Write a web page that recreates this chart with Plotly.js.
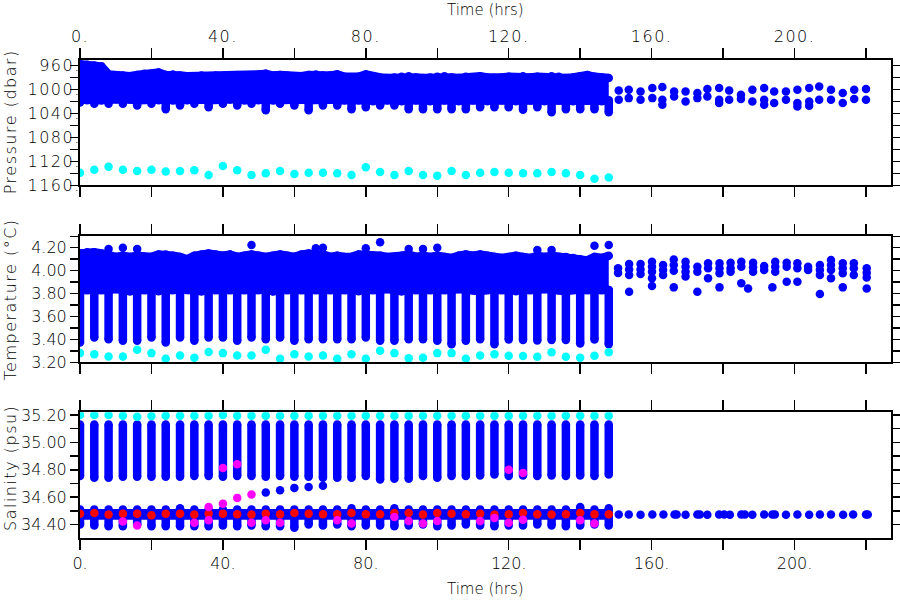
<!DOCTYPE html>
<html><head><meta charset="utf-8">
<script src="https://cdn.plot.ly/plotly-3.0.1.min.js"></script>
<style>
html,body{margin:0;padding:0;background:#fff}
#chart{width:900px;height:600px}
#chart .xtick text, #chart .ytick text{letter-spacing:1.5px}
#chart g.annotation[data-index="2"] text,
#chart g.annotation[data-index="3"] text,
#chart g.annotation[data-index="4"] text{letter-spacing:1.5px}
</style>
</head><body><div id="chart"></div>
<script>
// ---------- data ----------
const castT = [0,4,8,12,16,20,24,28,32,36,40,44,48,52,56,60,64,68,72,76,80,84,88,92,96,100,104,108,112,116,120,124,128,132,136,140,144,148];

// Pressure (dbar)
const presDip  = [1022,1024,1024,1024,1027,1024,1033,1027,1024,1030,1024,1027,1024,1035,1024,1027,1035,1027,1027,1033,1030,1027,1027,1033,1033,1033,1033,1033,1030,1030,1030,1034,1030,1038,1033,1033,1033,1038];
const presCyan = [1139,1134,1129,1134,1136,1134,1137,1136,1135,1143,1128,1135,1143,1140,1136,1141,1139,1139,1140,1143,1130,1138,1143,1136,1143,1144,1136,1143,1139,1138,1139,1140,1140,1138,1140,1143,1149,1147];
const bandT = [0,2,4,6,8,10,12,14,16,18,20,22,24,26,28,30,32,34,36,38,40,42,44,46,48,50,52,54,56,58,60,62,64,66,68,70,72,74,76,78,80,82,84,86,88,90,92,94,96,98,100,102,104,106,108,110,112,114,116,118,120,122,124,126,128,130,132,134,136,138,140,142,144,146,148];
const presBandTop = [958,959,960,962,975,977,977,978,976,974,975,972,976,975,977,978,978,977,978,977,978,978,976,977,978,975,974,977,976,977,978,978,976,975,977,977,975,
                     979,980,979,975,979,980,981,980,979,978,980,981,980,979,978,980,981,979,980,978,980,981,980,979,980,978,980,979,980,978,979,981,980,978,976,979,980,981];
const presBandBot = [1017,1018,1017,1018,1017,1016,1018,1017,1018,1017,1016,1018,1017,1018,1017,1018,1016,1017,1018,1017,1018,1017,1016,1018,1017,1018,1017,1018,1017,1016,1018,1017,1018,1017,1018,1017,1018,
                     1018,1019,1018,1019,1020,1019,1018,1019,1020,1019,1018,1019,1020,1019,1018,1019,1020,1019,1018,1019,1020,1019,1018,1019,1020,1019,1018,1019,1020,1019,1018,1019,1020,1019,1018,1019,1020,1019];
const presLateT = [150.8,150.8,153.6,153.6,156.9,156.9,160.2,160.2,163.0,163.0,163.0,166.3,166.3,169.5,169.5,172.8,172.8,175.6,175.6,178.9,178.9,178.9,181.7,181.7,185.0,185.0,188.2,188.2,191.5,191.5,191.5,194.3,194.3,197.6,197.6,200.8,200.8,200.8,204.1,204.1,204.1,206.9,206.9,210.2,210.2,213.5,213.5,216.7,216.7,220.0,220.0];
const presLateV = [1001.8,1017.4,1000.6,1014.6,1003.4,1017.4,997.8,1014.6,996.2,1017.4,1025.7,1003.4,1011.8,1003.4,1020.2,1006.2,1014.6,999.5,1011.8,997.8,1017.4,1022.9,1001.8,1017.4,1009.0,1016.2,1000.6,1020.2,997.8,1017.4,1025.7,1003.4,1022.9,1003.4,1017.4,1000.6,1022.9,1028.5,997.8,1020.2,1027.4,995.1,1017.4,1000.6,1017.4,1006.2,1022.9,1000.6,1016.2,999.5,1017.4];

// Temperature (degC)
const tempColLow = [3.372,3.416,3.402,3.387,3.387,3.416,3.372,3.416,3.387,3.416,3.416,3.387,3.416,3.402,3.416,3.387,3.402,3.402,3.402,3.402,3.416,3.387,3.387,3.402,3.402,3.387,3.358,3.387,3.402,3.358,3.400,3.395,3.390,3.395,3.395,3.365,3.400,3.358];
const tempColTop = 3.83;
const tempCyan = [3.28,3.27,3.25,3.25,3.31,3.28,3.23,3.26,3.24,3.29,3.28,3.26,3.26,3.31,3.23,3.27,3.25,3.26,3.23,3.27,3.23,3.30,3.28,3.235,3.24,3.28,3.28,3.23,3.26,3.27,3.258,3.255,3.249,3.287,3.249,3.24,3.258,3.287];
const tempBandTop = [4.15,4.16,4.16,4.15,4.14,4.12,4.13,4.12,4.13,4.12,4.12,4.14,4.14,4.13,4.12,4.10,4.13,4.14,4.15,4.14,4.13,4.14,4.12,4.13,4.14,4.13,4.12,4.13,4.14,4.13,4.12,4.14,4.15,4.14,4.14,4.12,4.13,
                     4.12,4.12,4.14,4.14,4.13,4.13,4.12,4.12,4.13,4.14,4.12,4.13,4.12,4.13,4.12,4.11,4.13,4.14,4.13,4.14,4.13,4.12,4.11,4.12,4.13,4.12,4.11,4.13,4.12,4.13,4.12,4.12,4.11,4.10,4.09,4.12,4.11,4.13];
const tempBandBot = [3.83,3.83,3.82,3.83,3.83,3.84,3.83,3.82,3.83,3.83,3.83,3.82,3.83,3.83,3.84,3.83,3.83,3.82,3.83,3.83,3.83,3.83,3.82,3.83,3.83,3.83,3.84,3.82,3.83,3.83,3.83,3.83,3.82,3.83,3.83,3.83,3.83,
                     3.83,3.83,3.82,3.83,3.83,3.83,3.84,3.83,3.82,3.83,3.83,3.83,3.83,3.82,3.83,3.83,3.84,3.83,3.83,3.82,3.83,3.83,3.83,3.83,3.82,3.83,3.83,3.83,3.84,3.83,3.83,3.82,3.83,3.83,3.83,3.82,3.83,3.83];
const tempBumpT = [8,12,16,48,66,68,80,84,92,96,100,128,132,144,148];
const tempBumpV = [4.19,4.20,4.19,4.224,4.195,4.20,4.195,4.247,4.19,4.19,4.20,4.18,4.18,4.217,4.224];
const tempLateT = [150.6,150.6,153.7,153.7,153.7,153.7,156.9,156.9,156.9,160.1,160.1,160.1,160.1,160.1,163.2,163.2,163.2,166.2,166.2,166.2,166.2,169.5,169.5,169.5,169.5,172.8,172.8,172.8,175.8,175.8,175.8,179.0,179.0,179.0,179.0,182.1,182.1,182.1,185.1,185.1,185.1,187.0,188.4,188.4,188.4,191.5,191.5,193.8,194.6,194.6,194.6,197.8,197.8,197.8,200.8,200.8,200.8,203.8,203.8,207.1,207.1,207.1,207.1,210.2,210.2,210.2,210.2,213.5,213.5,213.5,213.5,216.6,216.6,216.6,220.2,220.2,220.2,220.2];
const tempLateV = [4.02,3.98,4.058,4.011,3.962,3.816,4.058,4.011,3.97,4.078,4.034,3.99,3.933,3.866,4.05,4.005,3.962,4.098,4.049,4.0,3.854,4.078,4.034,3.99,3.948,4.034,3.99,3.816,4.064,4.02,3.933,4.064,4.02,3.977,3.854,4.07,4.02,3.99,4.078,4.034,3.89,3.845,4.07,4.03,3.99,4.04,4.005,3.854,4.078,4.034,3.99,4.07,4.034,3.904,4.064,4.02,3.904,4.034,4.005,4.05,4.005,3.962,3.796,4.093,4.05,4.005,3.933,4.064,4.02,3.977,3.854,4.064,4.02,3.962,4.02,3.982,3.94,3.845];

// Salinity (psu)
const salUpLow  = [34.754,34.742,34.742,34.749,34.749,34.749,34.749,34.749,34.754,34.754,34.749,34.754,34.754,34.749,34.754,34.749,34.750,34.742,34.742,34.742,34.754,34.730,34.734,34.734,34.754,34.742,34.754,34.754,34.759,34.766,34.754,34.759,34.754,34.759,34.754,34.759,34.754,34.766];
const salUpHigh = [35.13,35.13,35.13,35.13,35.13,35.13,35.13,35.13,35.13,35.13,35.13,35.13,35.13,35.13,35.13,35.13,35.13,35.13,35.13,35.13,35.13,35.13,35.13,35.13,35.13,35.13,35.13,35.13,35.13,35.13,35.13,35.13,35.13,35.13,35.13,35.13,35.13,35.13];
const salCyan   = [35.20,35.20,35.20,35.195,35.188,35.192,35.195,35.195,35.195,35.195,35.20,35.195,35.195,35.195,35.195,35.195,35.195,35.195,35.195,35.195,35.195,35.195,35.195,35.195,35.195,35.195,35.195,35.195,35.195,35.195,35.195,35.195,35.195,35.195,35.195,35.195,35.195,35.195];
const salLowLo  = [34.400,34.393,34.388,34.388,34.400,34.388,34.388,34.388,34.388,34.388,34.393,34.388,34.393,34.388,34.388,34.376,34.400,34.393,34.400,34.388,34.393,34.393,34.388,34.393,34.400,34.388,34.393,34.400,34.393,34.388,34.393,34.393,34.400,34.393,34.388,34.393,34.400,34.393];
const salLowHi  = [34.511,34.511,34.511,34.511,34.511,34.511,34.511,34.520,34.511,34.511,34.511,34.511,34.511,34.511,34.511,34.511,34.511,34.511,34.511,34.519,34.511,34.511,34.519,34.511,34.511,34.511,34.511,34.511,34.511,34.511,34.511,34.511,34.511,34.511,34.511,34.528,34.511,34.519];
const salRed    = [34.480,34.485,34.473,34.480,34.480,34.468,34.480,34.480,34.473,34.480,34.480,34.475,34.473,34.480,34.475,34.485,34.480,34.475,34.475,34.485,34.475,34.475,34.485,34.485,34.473,34.485,34.480,34.475,34.480,34.473,34.475,34.485,34.475,34.473,34.475,34.485,34.475,34.475];
const salBandT = [0,148];
const salBandTop = [34.482,34.482];
const salBandBot = [34.467,34.467];
const salRampT = [52,56,60,64,68];
const salRampV = [34.634,34.651,34.668,34.675,34.683];
const magT = [12,16,32,36,36,40,40,44,44,48,48,52,56,72,76,88,92,96,100,112,116,120,120,124,124,140,144];
const magV = [34.422,34.393,34.414,34.431,34.529,34.553,34.814,34.595,34.841,34.62,34.414,34.431,34.414,34.431,34.407,34.455,34.426,34.407,34.426,34.426,34.448,34.414,34.80,34.436,34.777,34.431,34.407];
const salLateT = [150.8,153.6,156.9,160.2,163.3,166.4,167.0,169.5,172.8,173.5,175.6,178.9,180.3,181.9,185.1,186.1,188.2,191.5,193.8,194.5,197.6,200.8,204.1,207.1,210.2,213.6,216.4,220.0,220.5];
const salLateV = [34.474,34.474,34.472,34.474,34.474,34.474,34.474,34.472,34.474,34.474,34.472,34.474,34.474,34.472,34.474,34.474,34.472,34.474,34.474,34.474,34.472,34.474,34.472,34.474,34.474,34.472,34.474,34.474,34.474];

// tick labels
const xTickVals = [0,20,40,60,80,100,120,140,160,180,200,220];
const xTickText = ['0.','','40.','','80.','','120.','','160.','','200.',''];
const pTickVals = [960,980,1000,1020,1040,1060,1080,1100,1120,1140,1160];
const pTickText = ['960.','','1000.','','1040.','','1080.','','1120.','','1160.'];
const tTickVals = [3.2,3.3,3.4,3.5,3.6,3.7,3.8,3.9,4.0,4.1,4.2,4.3];
const tTickText = ['3.20','','3.40','','3.60','','3.80','','4.00','','4.20',''];
const sTickVals = [34.3,34.4,34.5,34.6,34.7,34.8,34.9,35.0,35.1,35.2];
const sTickText = ['','34.40','','34.60','','34.80','','35.00','','35.20'];

// ---------- drawing ----------
const BLUE = '#0000ff', CYAN = '#00ffff', RED = '#ff0000', MAGENTA = '#ff00ff';
const MS = 8.5;

function columns(xs, lo, hi) {
  const x = [], y = [];
  xs.forEach((t, i) => {
    x.push(t, t, null);
    y.push(lo[i], Array.isArray(hi) ? hi[i] : hi, null);
  });
  return {x, y};
}
function band(xa, ya, t, bot, top) {
  return [
    {x: t, y: bot, xaxis: xa, yaxis: ya, mode: 'lines+markers', line: {color: BLUE, width: MS}, marker: {color: BLUE, size: MS}, hoverinfo: 'skip'},
    {x: t, y: top, xaxis: xa, yaxis: ya, mode: 'lines+markers', fill: 'tonexty', fillcolor: BLUE, line: {color: BLUE, width: MS}, marker: {color: BLUE, size: MS}, hoverinfo: 'skip'}
  ];
}
function colTrace(xa, ya, c) {
  return {x: c.x, y: c.y, xaxis: xa, yaxis: ya, mode: 'lines+markers', line: {color: BLUE, width: MS}, marker: {color: BLUE, size: MS}, hoverinfo: 'skip'};
}
function pts(xa, ya, x, y, color) {
  return {x: x, y: y, xaxis: xa, yaxis: ya, mode: 'markers', marker: {color: color, size: MS}, hoverinfo: 'skip'};
}

const traces = [
  ...band('x', 'y', bandT, presBandBot, presBandTop),
  colTrace('x', 'y', columns(castT, presDip, 1018)),
  pts('x', 'y', presLateT, presLateV, BLUE),
  pts('x', 'y', castT, presCyan, CYAN),

  ...band('x2', 'y2', bandT, tempBandBot, tempBandTop),
  colTrace('x2', 'y2', columns(castT, tempColLow, tempColTop)),
  pts('x2', 'y2', tempBumpT, tempBumpV, BLUE),
  pts('x2', 'y2', tempLateT, tempLateV, BLUE),
  pts('x2', 'y2', castT, tempCyan, CYAN),

  ...band('x3', 'y3', salBandT, salBandBot, salBandTop),
  colTrace('x3', 'y3', columns(castT, salUpLow, salUpHigh)),
  colTrace('x3', 'y3', columns(castT, salLowLo, salLowHi)),
  pts('x3', 'y3', salRampT, salRampV, BLUE),
  pts('x3', 'y3', salLateT, salLateV, BLUE),
  pts('x3', 'y3', castT, salCyan, CYAN),
  pts('x3', 'y3', castT, salRed, RED),
  pts('x3', 'y3', magT, magV, MAGENTA)
];

const FONT = 'DejaVu Sans, sans-serif';
const tickFont = {family: FONT, size: 16, color: '#000', weight: 200};
function xax(extra) {
  return Object.assign({
    range: [0, 227], tickmode: 'array', tickvals: xTickVals, ticktext: xTickText,
    ticks: 'outside', ticklen: 10, tickwidth: 1.5, tickcolor: '#000',
    showline: true, linecolor: '#000', linewidth: 2, mirror: 'ticks',
    showgrid: false, zeroline: false, tickfont: tickFont
  }, extra);
}
function yax(extra) {
  return Object.assign({
    tickmode: 'array', ticks: 'outside', ticklen: 8, tickwidth: 1.5, tickcolor: '#000',
    showline: true, linecolor: '#000', linewidth: 2, mirror: 'ticks',
    showgrid: false, zeroline: false, tickfont: tickFont
  }, extra);
}
const titleFont = {family: FONT, size: 16, color: '#000', weight: 200};

const layout = {
  width: 900, height: 600,
  margin: {l: 80, r: 9, t: 60, b: 62},
  paper_bgcolor: '#fff', plot_bgcolor: '#fff',
  showlegend: false,
  font: {family: FONT, color: '#000'},
  xaxis:  xax({anchor: 'y',  side: 'top', showticklabels: true}),
  xaxis2: xax({anchor: 'y2', showticklabels: false}),
  xaxis3: xax({anchor: 'y3', side: 'bottom', showticklabels: true}),
  yaxis:  yax({domain: [0.7379, 1.0], range: [1160, 951], tickvals: pTickVals, ticktext: pTickText, ticklabelstandoff: -14}),
  yaxis2: yax({domain: [0.3676, 0.6324], range: [3.2, 4.305], tickvals: tTickVals, ticktext: tTickText, ticklabelstandoff: -9.5}),
  yaxis3: yax({domain: [0.0, 0.263], range: [34.302, 35.22], tickvals: sTickVals, ticktext: sTickText, ticklabelstandoff: -9.5}),
  annotations: [
    {text: 'Time (hrs)', xref: 'paper', yref: 'paper', x: 0.5, y: 1.1036, xanchor: 'center', yanchor: 'middle', showarrow: false, font: Object.assign({}, titleFont, {size: 15})},
    {text: 'Time (hrs)', xref: 'paper', yref: 'paper', x: 0.5, y: -0.1067, xanchor: 'center', yanchor: 'middle', showarrow: false, font: Object.assign({}, titleFont, {size: 15})},
    {text: 'Pressure (dbar)', xref: 'paper', yref: 'paper', x: -0.0857, y: 0.8713, xanchor: 'center', yanchor: 'middle', textangle: -90, showarrow: false, font: titleFont},
    {text: 'Temperature (°C)', xref: 'paper', yref: 'paper', x: -0.0857, y: 0.5, xanchor: 'center', yanchor: 'middle', textangle: -90, showarrow: false, font: titleFont},
    {text: 'Salinity (psu)', xref: 'paper', yref: 'paper', x: -0.0857, y: 0.1464, xanchor: 'center', yanchor: 'middle', textangle: -90, showarrow: false, font: titleFont}
  ]
};

Plotly.newPlot('chart', traces, layout, {staticPlot: true, displayModeBar: false});
</script>
</body></html>
